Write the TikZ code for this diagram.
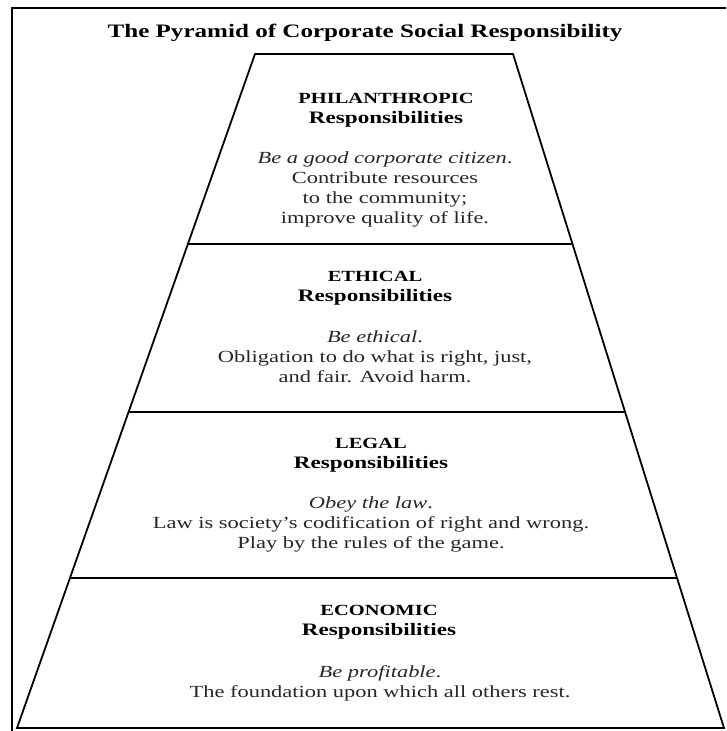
\documentclass[tikz,border=0pt]{standalone}
\usepackage{fontspec}
\setmainfont{Liberation Serif}[FakeStretch=1.32]
\usetikzlibrary{calc}

\begin{document}
\begin{tikzpicture}[
    x=1pt,
    y=-1pt,
    frame/.style={line width=2pt},
    edge/.style={line width=1.8pt},
    title/.style={
        anchor=base,
        font=\fontsize{19}{22}\selectfont\bfseries
    },
    head/.style={
        align=center,
        anchor=base,
        inner sep=0pt,
        font=\fontsize{17.5}{20}\selectfont\bfseries
    },
    body/.style={
        align=center,
        anchor=base,
        inner sep=0pt,
        text=black!85,
        font=\fontsize{17}{20}\selectfont
    }
]
\clip (0,0) rectangle (726,731);

% outer frame
\draw[frame] (11.5,740) -- (11.5,8) -- (740,8);

\node[title] (title) at (365,37) {The Pyramid of Corporate Social Responsibility};

% pyramid
\coordinate (tl) at (255,54);
\coordinate (tr) at (513,54);
\coordinate (bl) at (17,728);
\coordinate (br) at (724,728);

\draw[edge] (tl) -- (tr) -- (br) -- (bl) -- cycle;
\draw[edge] ($(tl)!0.282!(bl)$) -- ($(tr)!0.282!(br)$);
\draw[edge] ($(tl)!0.531!(bl)$) -- ($(tr)!0.531!(br)$);
\draw[edge] ($(tl)!0.777!(bl)$) -- ($(tr)!0.777!(br)$);

% philanthropic (nodes sit on their last baseline)
\node[head] (philhead) at (386,123) {{\fontsize{15.5}{20}\selectfont PHILANTHROPIC}\\Responsibilities};
\node[body] (philbody) at (385,223) {\textit{Be a good corporate citizen}.\\Contribute resources\\to the community;\\improve quality of life.};

% ethical
\node[head] (ethhead) at (375,301) {{\fontsize{15.5}{20}\selectfont ETHICAL}\\Responsibilities};
\node[body] (ethbody) at (375,382) {\textit{Be ethical}.\\Obligation to do what is right, just,\\and fair. Avoid harm.};

% legal
\node[head] (leghead) at (371,468) {{\fontsize{15.5}{20}\selectfont LEGAL}\\Responsibilities};
\node[body] (legbody) at (371,548) {\textit{Obey the law}.\\Law is society's codification of right and wrong.\\Play by the rules of the game.};

% economic
\node[head] (ecohead) at (379,635) {{\fontsize{15.5}{20}\selectfont ECONOMIC}\\Responsibilities};
\node[body] (ecobody) at (380,697) {\textit{Be profitable}.\\The foundation upon which all others rest.};

\end{tikzpicture}
\end{document}
